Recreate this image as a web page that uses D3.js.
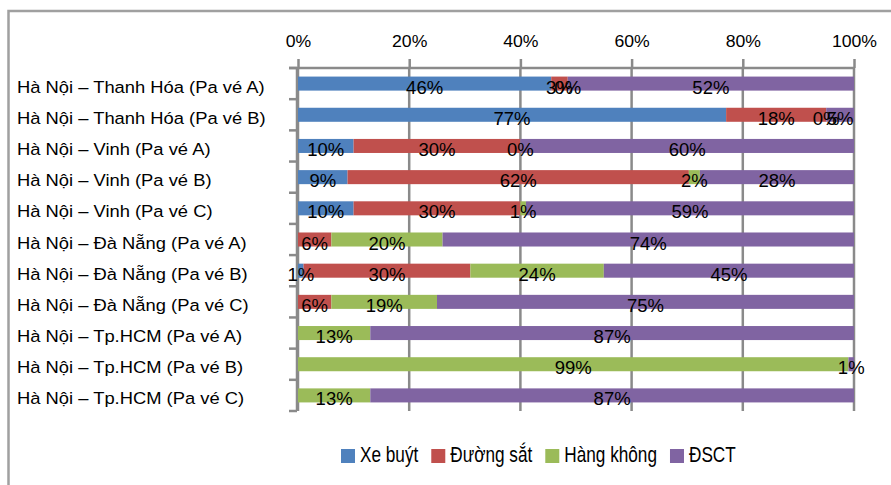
<!DOCTYPE html>
<html>
<head>
<meta charset="utf-8">
<script src="https://cdn.jsdelivr.net/npm/d3@7"></script>
<style>
  html, body { margin: 0; padding: 0; background: #fff; }
  svg { display: block; }
</style>
</head>
<body>
<svg id="chart" width="891" height="485"></svg>
<script>
// Route / ticket-option rows (top to bottom)
const categories = [
  "Hà Nội – Thanh Hóa (Pa vé A)",
  "Hà Nội – Thanh Hóa (Pa vé B)",
  "Hà Nội – Vinh (Pa vé A)",
  "Hà Nội – Vinh (Pa vé B)",
  "Hà Nội – Vinh (Pa vé C)",
  "Hà Nội – Đà Nẵng (Pa vé A)",
  "Hà Nội – Đà Nẵng (Pa vé B)",
  "Hà Nội – Đà Nẵng (Pa vé C)",
  "Hà Nội – Tp.HCM (Pa vé A)",
  "Hà Nội – Tp.HCM (Pa vé B)",
  "Hà Nội – Tp.HCM (Pa vé C)"
];

// Mode shares in percent; null = no value for that mode
const seriesNames = ["Xe buýt", "Đường sắt", "Hàng không", "ĐSCT"];
const xeBuyt    = [46, 77, 10,  9, 10, null,  1, null, null, null, null];
const duongSat  = [ 3, 18, 30, 62, 30,    6, 30,    6, null, null, null];
const hangKhong = [ 0,  0,  0,  2,  1,   20, 24,   19,   13,   99,   13];
const dsct      = [52,  5, 60, 28, 59,   74, 45,   75,   87,    1,   87];

const xTicks = [0, 0.2, 0.4, 0.6, 0.8, 1];
const colors = ["#4F81BD", "#C0504D", "#9BBB59", "#8064A2"];

const seriesValues = [xeBuyt, duongSat, hangKhong, dsct];
const rows = categories.map((c, i) => {
  const r = { category: c };
  seriesNames.forEach((s, k) => { r[s] = seriesValues[k][i]; });
  return r;
});

const svg = d3.select("#chart");
const FONT = "'Liberation Sans', Arial, sans-serif";

// outer chart frame
svg.append("rect")
  .attr("x", 8.5).attr("y", 11)
  .attr("width", 1000).attr("height", 1000)
  .attr("fill", "none").attr("stroke", "#a0a0a0").attr("stroke-width", 2.5);

const x = d3.scaleLinear().domain([0, 1]).range([298, 854]);
const y = d3.scaleBand().domain(categories).range([68, 411])
  .paddingInner(0.55).paddingOuter(0.275);

const gridColor = "#8a8a8a";

// vertical gridlines
svg.append("g").selectAll("line").data(xTicks).join("line")
  .attr("x1", d => x(d)).attr("x2", d => x(d))
  .attr("y1", 68).attr("y2", 411)
  .attr("stroke", gridColor).attr("stroke-width", 2.5);

// top percentage axis
const xAxis = svg.append("g").attr("transform", "translate(0,68)")
  .call(d3.axisTop(x).tickValues(xTicks).tickFormat(d3.format(".0%")).tickSize(9).tickSizeOuter(0));
xAxis.select(".domain").remove();
xAxis.selectAll(".tick line").attr("stroke", gridColor).attr("stroke-width", 2.5);
xAxis.selectAll(".tick text").remove();
xAxis.append("line").attr("x1", 289).attr("x2", x(1)).attr("y1", 0).attr("y2", 0)
  .attr("stroke", gridColor).attr("stroke-width", 2.5);
xAxis.selectAll(".tick").append("text")
  .attr("transform", "translate(0,-21) scale(1.07,1)")
  .attr("text-anchor", "middle")
  .attr("fill", "#000")
  .style("font-family", FONT).style("font-size", "16.5px")
  .text(d => d3.format(".0%")(d));

// left category axis: line and boundary ticks
const step = y.step();
const boundaries = d3.range(categories.length + 1).map(i => 68 + i * step);
svg.append("line").attr("x1", 297).attr("x2", 297).attr("y1", 68).attr("y2", 411)
  .attr("stroke", gridColor).attr("stroke-width", 2.5);
svg.append("g").selectAll("line").data(boundaries).join("line")
  .attr("x1", 289).attr("x2", 297).attr("y1", d => d).attr("y2", d => d)
  .attr("stroke", gridColor).attr("stroke-width", 2.5);

// category labels, left-aligned
svg.append("g").selectAll("text").data(categories).join("text")
  .attr("transform", d => `translate(17,${y(d) + y.bandwidth() / 2 + 9}) scale(1.08,1)`)
  .attr("fill", "#000")
  .style("font-family", FONT).style("font-size", "17px")
  .text(d => d);

// 100% stacked bars
const stack = d3.stack().keys(seriesNames)
  .value((d, key) => d[key] == null ? 0 : d[key])
  .offset(d3.stackOffsetExpand);
const layers = stack(rows);

const barG = svg.append("g");
layers.forEach((layer, k) => {
  barG.append("g").attr("fill", colors[k])
    .selectAll("rect").data(layer.filter(d => d.data[layer.key] != null)).join("rect")
    .attr("x", d => x(d[0]))
    .attr("width", d => Math.max(0, x(d[1]) - x(d[0])))
    .attr("y", d => y(d.data.category))
    .attr("height", y.bandwidth());
});

// value labels at segment centres
const labG = svg.append("g");
layers.forEach(layer => {
  labG.append("g").selectAll("text")
    .data(layer.filter(d => d.data[layer.key] != null)).join("text")
    .attr("transform", d => `translate(${x((d[0] + d[1]) / 2)},${y(d.data.category) + y.bandwidth() / 2 + 10})`)
    .attr("text-anchor", "middle")
    .attr("fill", "#000")
    .style("font-family", FONT).style("font-size", "18.5px")
    .text(d => d.data[layer.key] + "%");
});

// legend
const legend = svg.append("g");
let lx = 341;
seriesNames.forEach((s, k) => {
  legend.append("rect").attr("x", lx).attr("y", 449).attr("width", 14).attr("height", 14)
    .attr("fill", colors[k]);
  const t = legend.append("text")
    .attr("transform", `translate(${lx + 19},462) scale(0.8,1)`)
    .attr("fill", "#000")
    .style("font-family", FONT).style("font-size", "21.5px")
    .text(s);
  lx += 19 + t.node().getComputedTextLength() * 0.8 + 13;
});
</script>
</body>
</html>
